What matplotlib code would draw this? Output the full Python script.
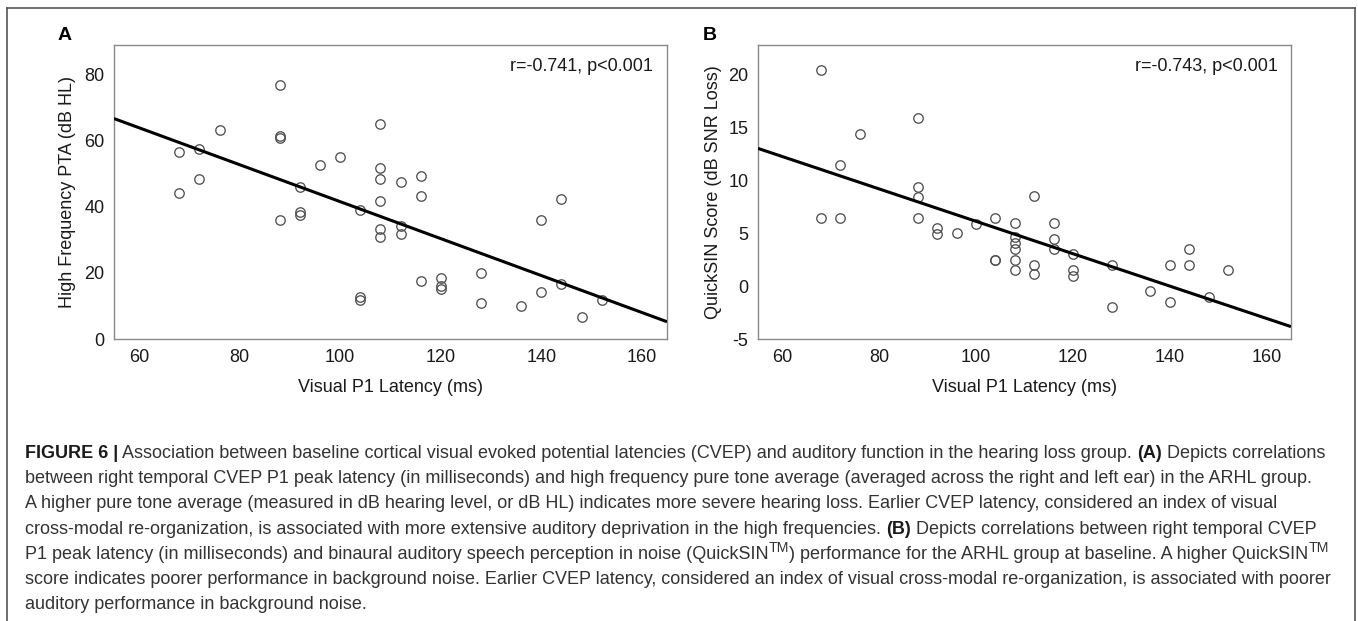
import numpy as np
import matplotlib
matplotlib.use("Agg")
import matplotlib.pyplot as plt
from matplotlib.font_manager import FontProperties
from matplotlib.lines import Line2D

plt.rcParams['font.family'] = ['Liberation Sans', 'DejaVu Sans']
plt.rcParams['axes.unicode_minus'] = False

# ---------------- data ----------------
latency_A = [68, 68, 72, 72, 76, 88, 88, 88, 88, 92, 92, 92, 96, 100, 104, 104, 104,
             108, 108, 108, 108, 108, 108, 112, 112, 112, 116, 116, 116, 120, 120, 120,
             128, 128, 136, 140, 140, 144, 144, 148, 152]
pta_A = [56.7, 44.2, 57.6, 48.5, 63.4, 76.8, 61.6, 60.7, 35.9, 46.0, 38.4, 37.5, 52.6,
         55.2, 39.2, 12.6, 11.9, 65.2, 51.7, 48.5, 41.7, 33.4, 30.9, 47.5, 34.1, 31.8,
         49.3, 43.4, 17.6, 18.5, 16.0, 15.2, 20.0, 10.9, 9.9, 35.9, 14.2, 42.5, 16.7,
         6.7, 11.7]

latency_B = [68, 68, 72, 72, 76, 88, 88, 88, 88, 92, 92, 96, 100, 104, 104, 104,
             108, 108, 108, 108, 108, 108, 112, 112, 112, 116, 116, 116, 120, 120, 120,
             128, 128, 136, 140, 140, 144, 144, 148, 152]
quicksin_B = [20.4, 6.4, 11.5, 6.4, 14.4, 15.9, 9.4, 8.4, 6.4, 5.5, 4.9, 5.0, 5.9,
              6.4, 2.5, 2.5, 6.0, 4.6, 4.1, 3.5, 2.5, 1.5, 8.5, 2.0, 1.1, 6.0, 4.5,
              3.5, 3.0, 1.5, 1.0, 2.0, -2.0, -0.5, 2.0, -1.5, 3.5, 2.0, -1.0, 1.5]

x_ticks = [60, 80, 100, 120, 140, 160]
y_ticks_A = [0, 20, 40, 60, 80]
y_ticks_B = [-5, 0, 5, 10, 15, 20]
stats_A = "r=-0.741, p<0.001"
stats_B = "r=-0.743, p<0.001"
xlabel = "Visual P1 Latency (ms)"
ylabel_A = "High Frequency PTA (dB HL)"
ylabel_B = "QuickSIN Score (dB SNR Loss)"

caption_lines = [
    [("FIGURE 6 |", True, False),
     (" Association between baseline cortical visual evoked potential latencies (CVEP) and auditory function in the hearing loss group. ", False, False),
     ("(A)", True, False), (" Depicts correlations", False, False)],
    [("between right temporal CVEP P1 peak latency (in milliseconds) and high frequency pure tone average (averaged across the right and left ear) in the ARHL group.", False, False)],
    [("A higher pure tone average (measured in dB hearing level, or dB HL) indicates more severe hearing loss. Earlier CVEP latency, considered an index of visual", False, False)],
    [("cross-modal re-organization, is associated with more extensive auditory deprivation in the high frequencies. ", False, False),
     ("(B)", True, False), (" Depicts correlations between right temporal CVEP", False, False)],
    [("P1 peak latency (in milliseconds) and binaural auditory speech perception in noise (QuickSIN", False, False),
     ("TM", False, True),
     (") performance for the ARHL group at baseline. A higher QuickSIN", False, False),
     ("TM", False, True)],
    [("score indicates poorer performance in background noise. Earlier CVEP latency, considered an index of visual cross-modal re-organization, is associated with poorer", False, False)],
    [("auditory performance in background noise.", False, False)],
]

# ---------------- figure ----------------
W, H = 1358, 621
fig = plt.figure(figsize=(W / 100, H / 100), dpi=100)


def px_axes(left, top, right, bottom):
    return fig.add_axes([left / W, (H - bottom) / H, (right - left) / W, (bottom - top) / H])


def style_axes(ax, yticks, ylim, ylabel, stats):
    ax.set_xlim(55, 165)
    ax.set_ylim(*ylim)
    ax.set_xticks(x_ticks)
    ax.set_yticks(yticks)
    ax.tick_params(length=0, labelsize=13, colors='#1a1a1a', pad=7)
    for sp in ax.spines.values():
        sp.set_color('#8a8a8a')
        sp.set_linewidth(1.0)
    ax.set_xlabel(xlabel, fontsize=13, color='#1a1a1a')
    ax.xaxis.set_label_coords(0.5, -0.135)
    ax.set_ylabel(ylabel, fontsize=13, color='#1a1a1a')
    ax.yaxis.set_label_coords(-0.068, 0.5)
    ax.text(0.975, 0.955, stats, transform=ax.transAxes, ha='right', va='top',
            fontsize=13, color='#1a1a1a')


def scatter_fit(ax, x, y):
    x = np.asarray(x, float)
    y = np.asarray(y, float)
    ax.plot(x, y, linestyle='none', marker='o', markersize=6.8, markerfacecolor='none',
            markeredgecolor='#505050', markeredgewidth=0.95, zorder=3)
    slope, intercept = np.polyfit(x, y, 1)
    xl = np.array(ax.get_xlim())
    ax.plot(xl, intercept + slope * xl, color='black', linewidth=2.2, zorder=4,
            solid_capstyle='butt')


axA = px_axes(114, 45, 667, 339)
style_axes(axA, y_ticks_A, (0, 89), ylabel_A, stats_A)
scatter_fit(axA, latency_A, pta_A)

axB = px_axes(758, 45, 1291, 339)
style_axes(axB, y_ticks_B, (-5, 22.8), ylabel_B, stats_B)
scatter_fit(axB, latency_B, quicksin_B)

# panel letters
fig.text(58 / W, (H - 35) / H, "A", fontsize=14, fontweight='bold', va='center', ha='left')
fig.text(703 / W, (H - 35) / H, "B", fontsize=14, fontweight='bold', va='center', ha='left')

# outer frame
frame_kw = dict(color='#555555', linewidth=1.2, transform=fig.transFigure)
fig.add_artist(Line2D([7 / W, 1355 / W], [(H - 8) / H, (H - 8) / H], **frame_kw))
fig.add_artist(Line2D([7 / W, 7 / W], [(H - 8) / H, 0], **frame_kw))
fig.add_artist(Line2D([1355 / W, 1355 / W], [(H - 8) / H, 0], **frame_kw))

# caption (rich text, laid out piece by piece)
renderer = fig.canvas.get_renderer()
cap_size = 13.0
cap_color = '#333333'


def seg_width(s, fp):
    w1, _, _ = renderer.get_text_width_height_descent('|' + s + '|', fp, ismath=False)
    w0, _, _ = renderer.get_text_width_height_descent('||', fp, ismath=False)
    return w1 - w0


x0 = 25
base0 = 458
line_step = 25.2
for i, segs in enumerate(caption_lines):
    x = x0
    yb = base0 + i * line_step
    for s, bold, sup in segs:
        size = cap_size * (0.78 if sup else 1.0)
        fp = FontProperties(family=['Liberation Sans', 'DejaVu Sans'], size=size,
                            weight='bold' if bold else 'normal')
        y = yb - (7 if sup else 0)
        fig.text(x / W, (H - y) / H, s, fontproperties=fp,
                 color='#1a1a1a' if bold else cap_color, ha='left', va='baseline')
        x += seg_width(s, fp)

fig.savefig("out.png", dpi=100)
